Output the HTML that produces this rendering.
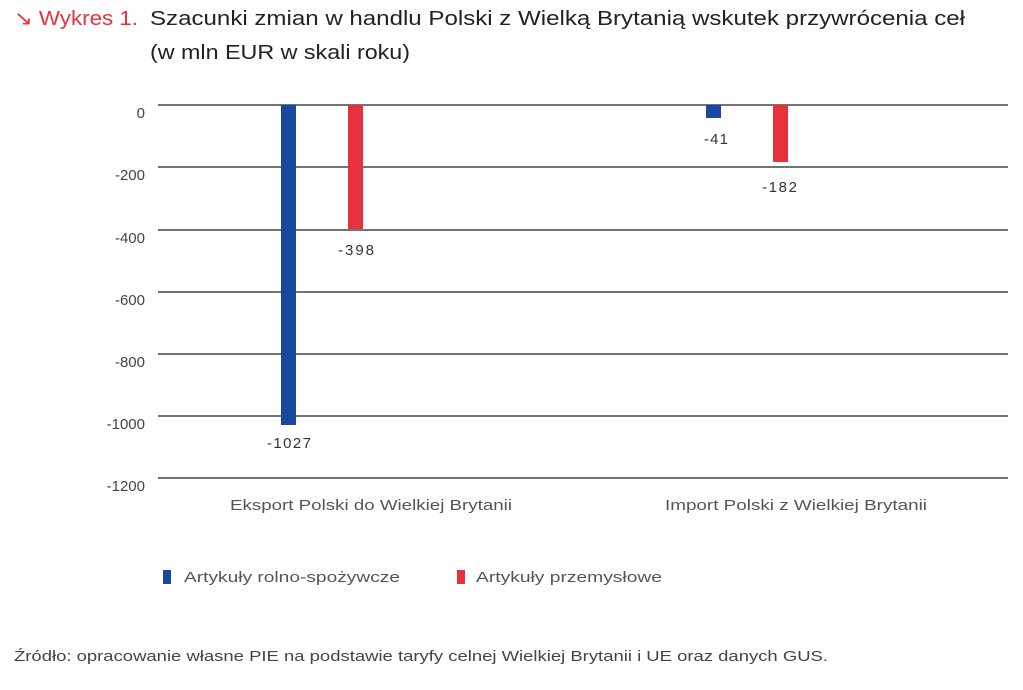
<!DOCTYPE html>
<html><head><meta charset="utf-8"><style>
body{margin:0;width:1023px;height:690px;background:#fff;overflow:hidden;font-family:"Liberation Sans",sans-serif;}
.t{position:absolute;white-space:nowrap;}
</style></head><body>
<svg width="1023" height="690" style="position:absolute;left:0;top:0" font-family="Liberation Sans, sans-serif">
<text x="14" y="25" font-size="20" fill="#e5323c" textLength="124" lengthAdjust="spacingAndGlyphs">↘ Wykres 1.</text>
<text x="150" y="25" font-size="20" fill="#222" textLength="815" lengthAdjust="spacingAndGlyphs">Szacunki zmian w handlu Polski z Wielką Brytanią wskutek przywrócenia ceł</text>
<text x="150" y="59" font-size="20" fill="#222" textLength="260" lengthAdjust="spacingAndGlyphs">(w mln EUR w skali roku)</text>
<g stroke="#222" stroke-width="1.2">
<line x1="158" x2="1008" y1="105" y2="105"/>
<line x1="158" x2="1008" y1="167" y2="167"/>
<line x1="158" x2="1008" y1="230" y2="230"/>
<line x1="158" x2="1008" y1="292" y2="292"/>
<line x1="158" x2="1008" y1="354" y2="354"/>
<line x1="158" x2="1008" y1="416" y2="416"/>
<line x1="158" x2="1008" y1="478" y2="478"/>
</g>
<g font-size="15" fill="#444" text-anchor="end">
<text x="145" y="118">0</text>
<text x="145" y="180">-200</text>
<text x="145" y="243">-400</text>
<text x="145" y="305">-600</text>
<text x="145" y="367">-800</text>
<text x="145" y="429">-1000</text>
<text x="145" y="491">-1200</text>
</g>
<rect x="281" y="105" width="15" height="320" fill="#17479e"/>
<rect x="348" y="105" width="15" height="124" fill="#e5323c"/>
<rect x="706" y="105" width="15" height="13" fill="#17479e"/>
<rect x="773" y="105" width="15" height="57" fill="#e5323c"/>
<g font-size="15" fill="#333">
<text x="267" y="448" textLength="44">-1027</text>
<text x="338" y="255" textLength="36">-398</text>
<text x="704" y="144" textLength="24">-41</text>
<text x="762" y="192" textLength="35">-182</text>
<text x="230" y="510" fill="#555" textLength="282" lengthAdjust="spacingAndGlyphs">Eksport Polski do Wielkiej Brytanii</text>
<text x="665" y="510" fill="#555" textLength="262" lengthAdjust="spacingAndGlyphs">Import Polski z Wielkiej Brytanii</text>
</g>
<rect x="163" y="570" width="8" height="14" fill="#17479e"/>
<text x="184" y="582" font-size="15" fill="#555" textLength="216" lengthAdjust="spacingAndGlyphs">Artykuły rolno-spożywcze</text>
<rect x="457" y="570" width="8" height="14" fill="#e5323c"/>
<text x="476" y="582" font-size="15" fill="#555" textLength="186" lengthAdjust="spacingAndGlyphs">Artykuły przemysłowe</text>
<text x="14" y="661" font-size="15" fill="#444" textLength="814" lengthAdjust="spacingAndGlyphs">Źródło: opracowanie własne PIE na podstawie taryfy celnej Wielkiej Brytanii i UE oraz danych GUS.</text>
</svg>
</body></html>
